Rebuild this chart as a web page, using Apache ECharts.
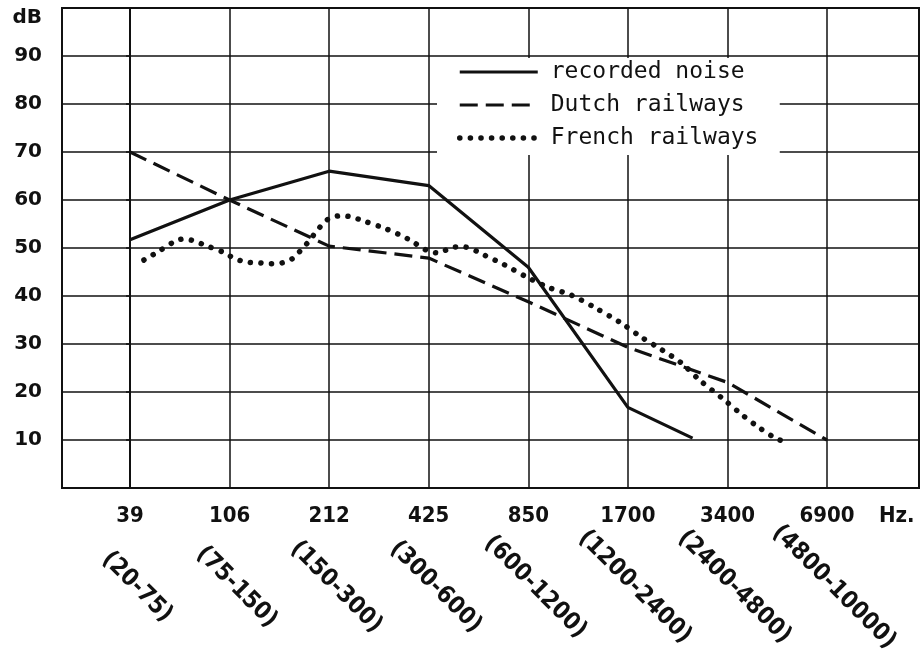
<!DOCTYPE html>
<html>
<head>
<meta charset="utf-8">
<script src="https://cdn.jsdelivr.net/npm/echarts@6/dist/echarts.min.js"></script>
<style>
  html, body { margin: 0; background: #fff; }
  #chart { width: 922px; height: 650px; }
</style>
</head>
<body>
<div id="chart"></div>
<script>
// octave band centre frequencies and their ranges (Hz)
const freqLabels = ["39", "106", "212", "425", "850", "1700", "3400", "6900"]
const bandLabels = ["(20-75)", "(75-150)", "(150-300)", "(300-600)", "(600-1200)", "(1200-2400)", "(2400-4800)", "(4800-10000)"]
const bandIndex = [0, 1, 2, 3, 4, 5, 6, 7]
const yTicks = [0, 10, 20, 30, 40, 50, 60, 70, 80, 90, 100]

// [band position, dB]
const recordedNoise = [[0, 51.7], [1, 60], [2, 66], [3, 63], [4, 46], [5, 16.8], [5.65, 10.4]]
const dutchRailways = [[0, 70], [1, 60], [2, 50.4], [3, 47.9], [4, 38.8], [5, 29.3], [6, 22], [7, 10]]
const frenchRailways = [
  [0.14, 47.5], [0.28, 49.2], [0.46, 51.5], [0.54, 51.9], [0.64, 51.5], [0.75, 50.6],
  [0.95, 49], [1.04, 47.9], [1.16, 47.1], [1.3, 46.9], [1.41, 46.7], [1.53, 46.9],
  [1.64, 47.9], [1.71, 49.4], [1.78, 51], [1.91, 54.4], [1.99, 56], [2.11, 56.7],
  [2.22, 56.5], [2.35, 55.6], [2.57, 54], [2.79, 51.9], [2.99, 49.4], [3.09, 49],
  [3.26, 50.2], [3.36, 50.2], [3.56, 48.5], [3.76, 46.5], [3.98, 44], [4.19, 41.9],
  [4.43, 40.2], [4.66, 37.7], [4.93, 34.4], [5.13, 31.5], [5.34, 28.8], [5.54, 26],
  [5.72, 22.5], [5.96, 18.5], [6.15, 15.2], [6.31, 12.7], [6.5, 10.2], [6.61, 9.6],
]

const ink = "#111"
const labelFont = "DejaVu Sans Condensed"
const xMin = -0.683
const xMax = 7.924

const solidLine = { color: ink, width: 3.2 }
const dashedLine = { color: ink, width: 3.2, type: [18, 8] }
const dottedLine = { color: ink, width: 5.5, type: [0.1, 10.5], cap: "round" }

const chart = echarts.init(document.getElementById("chart"))

chart.setOption({
  animation: false,
  backgroundColor: "#fff",
  grid: {
    left: 62,
    right: 3,
    top: 8,
    bottom: 162,
    containLabel: false,
    outerBoundsMode: "none",
    show: true,
    borderColor: ink,
    borderWidth: 2,
  },
  legend: {
    orient: "vertical",
    left: 437,
    top: 58,
    padding: [1, 0, 4, 20],
    width: 345,
    backgroundColor: "#fff",
    itemWidth: 78,
    itemHeight: 14,
    itemGap: 7,
    itemStyle: { opacity: 0 },
    textStyle: { fontFamily: "DejaVu Sans Mono", fontSize: 23, color: ink, lineHeight: 26, padding: [0, 0, 0, 8], width: 229 },
    data: [
      { name: "recorded noise", lineStyle: solidLine },
      { name: "Dutch railways", lineStyle: dashedLine },
      { name: "French railways", lineStyle: dottedLine },
    ],
  },
  xAxis: [
    {
      type: "value",
      min: xMin,
      max: xMax,
      axisLine: { lineStyle: { color: ink, width: 2 } },
      axisTick: { show: false, customValues: bandIndex },
      splitLine: { show: true, lineStyle: { color: ink, width: 1.5 } },
      axisLabel: {
        customValues: bandIndex.concat([7.7]),
        margin: 17,
        fontFamily: labelFont,
        fontWeight: "bold",
        fontSize: 22,
        color: ink,
        formatter: (v) => (v === 7.7 ? "Hz." : freqLabels[v]),
      },
    },
    {
      type: "value",
      position: "bottom",
      min: xMin - 0.07,
      max: xMax - 0.07,
      axisLine: { show: false },
      axisTick: { show: false },
      splitLine: { show: false },
      axisLabel: {
        customValues: bandIndex,
        rotate: -45,
        align: "center",
        verticalAlign: "middle",
        margin: 99,
        fontFamily: labelFont,
        fontWeight: "bold",
        fontSize: 24,
        color: ink,
        formatter: (v) => bandLabels[v],
      },
    },
  ],
  yAxis: {
    type: "value",
    min: yTicks[0],
    max: yTicks[yTicks.length - 1],
    interval: 10,
    axisLine: { show: true, lineStyle: { color: ink, width: 2 } },
    axisTick: { show: true, length: 4, lineStyle: { color: ink, width: 1.5 } },
    splitLine: { lineStyle: { color: ink, width: 1.5 } },
    axisLabel: {
      margin: 20,
      fontFamily: "DejaVu Sans",
      fontWeight: "bold",
      fontSize: 20,
      color: ink,
      formatter: (v) => (v === 0 ? "" : v === 100 ? "{db|dB}" : String(v)),
      rich: { db: { fontFamily: "DejaVu Sans", fontWeight: "bold", fontSize: 20, color: ink, padding: [20, 0, 0, 0] } },
    },
  },
  series: [
    {
      name: "recorded noise",
      type: "line",
      data: recordedNoise,
      symbol: "none",
      lineStyle: solidLine,
      itemStyle: { color: ink },
    },
    {
      name: "Dutch railways",
      type: "line",
      data: dutchRailways,
      symbol: "none",
      lineStyle: dashedLine,
      itemStyle: { color: ink },
    },
    {
      name: "French railways",
      type: "line",
      data: frenchRailways,
      symbol: "none",
      smooth: 0.3,
      lineStyle: dottedLine,
      itemStyle: { color: ink },
    },
  ],
})
</script>
</body>
</html>
